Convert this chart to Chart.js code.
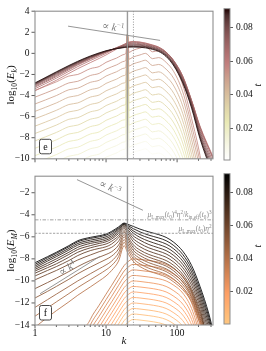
<!DOCTYPE html>
<html><head><meta charset="utf-8">
<script src="https://cdn.jsdelivr.net/npm/chart.js@4.4.0/dist/chart.umd.min.js"></script>
<style>
html,body{margin:0;padding:0;background:#fff;width:266px;height:351px;overflow:hidden;position:relative}
canvas{position:absolute;display:block}
#cE{left:0;top:0;width:266px;height:170px}
#cM{left:0;top:165px;width:266px;height:186px}
#cbE{left:222px;top:0;width:44px;height:170px}
#cbM{left:222px;top:165px;width:44px;height:186px}
</style></head><body>
<canvas id="cE" width="266" height="170"></canvas>
<canvas id="cM" width="266" height="186"></canvas>
<canvas id="cbE" width="44" height="170"></canvas>
<canvas id="cbM" width="44" height="186"></canvas>
<script>
// ---------------- DATA: panel e (kinetic spectra) ----------------
const kE = [1, 2, 3, 4, 6, 8, 10, 14, 18, 19, 20, 21, 24, 30, 36, 45, 55, 70, 90, 120, 160, 210, 320];
// saturated bundle (late times)
const Ek_091 = [-2.8, -1.75, -1.15, -0.75, -0.25, 0.05, 0.25, 0.45, 0.55, 0.57, 0.58, 0.59, 0.6, 0.58, 0.52, 0.38, 0.18, -0.3, -1.2, -2.8, -5.2, -8.1, -11.6];
const Ek_087 = [-2.85, -1.8, -1.2, -0.8, -0.3, 0.0, 0.22, 0.45, 0.58, 0.61, 0.63, 0.64, 0.66, 0.64, 0.58, 0.44, 0.24, -0.22, -1.1, -2.7, -5.05, -7.95, -11.4];
const Ek_083 = [-2.9, -1.85, -1.25, -0.85, -0.33, -0.02, 0.2, 0.46, 0.62, 0.66, 0.68, 0.7, 0.72, 0.7, 0.64, 0.5, 0.3, -0.15, -1.02, -2.6, -4.9, -7.8, -11.2];
const Ek_079 = [-2.95, -1.92, -1.3, -0.9, -0.38, -0.05, 0.18, 0.48, 0.66, 0.71, 0.74, 0.77, 0.8, 0.78, 0.7, 0.56, 0.36, -0.08, -0.95, -2.5, -4.8, -7.6, -10.9];
const Ek_075 = [-3.0, -2.0, -1.38, -0.96, -0.42, -0.08, 0.16, 0.5, 0.72, 0.78, 0.82, 0.85, 0.88, 0.85, 0.77, 0.62, 0.42, 0.0, -0.85, -2.4, -4.7, -7.4, -10.6];
const Ek_071 = [-3.1, -2.1, -1.45, -1.02, -0.48, -0.12, 0.14, 0.52, 0.78, 0.85, 0.9, 0.93, 0.96, 0.92, 0.83, 0.68, 0.48, 0.06, -0.78, -2.3, -4.6, -7.2, -10.3];
const Ek_067 = [-3.2, -2.2, -1.55, -1.1, -0.55, -0.18, 0.1, 0.55, 0.85, 0.93, 0.98, 1.02, 1.05, 1.0, 0.9, 0.74, 0.54, 0.1, -0.72, -2.2, -4.5, -7.0, -10.0];
const Ek_063 = [-3.35, -2.35, -1.7, -1.25, -0.68, -0.3, 0.0, 0.5, 0.85, 0.95, 1.02, 1.06, 1.1, 1.05, 0.95, 0.78, 0.58, 0.12, -0.7, -2.15, -4.45, -6.9, -9.8];
const Ek_059 = [-3.55, -2.55, -1.9, -1.45, -0.88, -0.48, -0.15, 0.4, 0.8, 0.92, 1.0, 1.06, 1.12, 1.08, 0.98, 0.8, 0.6, 0.12, -0.72, -2.2, -4.5, -7.0, -9.9];
// growing spectra (early times), spike at the forcing wavenumber
const Ek_0545 = [-3.5, -2.7, -2.15, -2.0, -1.45, -1.25, -0.85, -0.45, -0.1, 0.0, 1.8, 0.1, 0.3, 0.5, 0.65, 0.15, 0.25, -0.2, -1.1, -3.0, -6.2, -9.7, -17.7];
const Ek_0510 = [-4.15, -3.35, -2.8, -2.65, -2.1, -1.9, -1.5, -1.1, -0.75, -0.65, 1.8, -0.55, -0.35, -0.15, 0.0, -0.5, -0.4, -0.85, -1.75, -3.65, -6.85, -10.35, -18];
const Ek_0475 = [-4.8, -4.0, -3.45, -3.3, -2.75, -2.55, -2.15, -1.75, -1.4, -1.3, 1.8, -1.2, -1.0, -0.8, -0.65, -1.15, -1.05, -1.5, -2.4, -4.3, -7.5, -11, -18];
const Ek_0440 = [-5.5, -4.7, -4.15, -4.0, -3.45, -3.25, -2.85, -2.45, -2.1, -2.0, 1.8, -1.9, -1.7, -1.5, -1.35, -1.85, -1.75, -2.2, -3.1, -5.0, -8.2, -11.7, -18];
const Ek_0405 = [-6.2, -5.4, -4.85, -4.7, -4.15, -3.95, -3.55, -3.15, -2.8, -2.7, 1.8, -2.6, -2.4, -2.2, -2.05, -2.55, -2.45, -2.9, -3.8, -5.7, -8.9, -12.4, -18];
const Ek_0370 = [-6.9, -6.1, -5.55, -5.4, -4.85, -4.65, -4.25, -3.85, -3.5, -3.4, 1.8, -3.3, -3.1, -2.9, -2.75, -3.25, -3.15, -3.6, -4.5, -6.4, -9.6, -13.1, -18];
const Ek_0335 = [-7.6, -6.8, -6.25, -6.1, -5.55, -5.35, -4.95, -4.55, -4.2, -4.1, 1.8, -4.0, -3.8, -3.6, -3.45, -3.95, -3.85, -4.3, -5.2, -7.1, -10.3, -13.8, -18];
const Ek_0300 = [-8.3, -7.5, -6.95, -6.8, -6.25, -6.05, -5.65, -5.25, -4.9, -4.8, 1.8, -4.7, -4.5, -4.3, -4.15, -4.65, -4.55, -5.0, -5.9, -7.8, -11.0, -14.5, -18];
const Ek_0265 = [-9.0, -8.2, -7.65, -7.5, -6.95, -6.75, -6.35, -5.95, -5.6, -5.5, 1.8, -5.4, -5.2, -5.0, -4.85, -5.35, -5.25, -5.7, -6.6, -8.5, -11.7, -15, -18];
const Ek_0230 = [-9.7, -8.9, -8.35, -8.2, -7.65, -7.45, -7.05, -6.65, -6.3, -6.2, 1.8, -6.1, -5.9, -5.7, -5.55, -6.05, -5.95, -6.4, -7.3, -9.2, -12.4, -16, -18];
const Ek_0195 = [-10.4, -9.6, -9.05, -8.9, -8.35, -8.15, -7.75, -7.35, -7.0, -6.9, 1.8, -6.8, -6.6, -6.4, -6.25, -6.75, -6.65, -7.1, -8.0, -9.9, -13.1, -17, -18];
const Ek_0160 = [-11.1, -10.3, -9.75, -9.6, -9.05, -8.85, -8.45, -8.05, -7.7, -7.6, 1.8, -7.5, -7.3, -7.1, -6.95, -7.45, -7.35, -7.8, -8.7, -10.6, -13.8, -17, -18];
const Ek_0125 = [-11.8, -11.0, -10.45, -10.3, -9.75, -9.55, -9.15, -8.75, -8.4, -8.3, 1.8, -8.2, -8.0, -7.8, -7.65, -8.15, -8.05, -8.5, -9.4, -11.3, -14.5, -17, -18];
const Ek_0090 = [-12.5, -11.7, -11.15, -11.0, -10.45, -10.25, -9.85, -9.45, -9.1, -9.0, 1.8, -8.9, -8.7, -8.5, -8.35, -8.85, -8.75, -9.2, -10.1, -12.0, -15, -17, -18];
const Ek_0055 = [-13.2, -12.4, -11.85, -11.7, -11.15, -10.95, -10.55, -10.15, -9.8, -9.7, 1.8, -9.6, -9.4, -9.2, -9.05, -9.55, -9.45, -9.9, -10.8, -12.7, -15.5, -17, -18];
const Ek_0020 = [-13.9, -13.1, -12.55, -12.4, -11.85, -11.65, -11.25, -10.85, -10.5, -10.4, 1.8, -10.3, -10.1, -9.9, -9.75, -10.25, -10.15, -10.6, -11.5, -13.4, -16, -17, -18];
const tE = [0.091, 0.087, 0.083, 0.079, 0.075, 0.071, 0.067, 0.063, 0.059,
            0.0545, 0.051, 0.0475, 0.044, 0.0405, 0.037, 0.0335, 0.030, 0.0265, 0.023, 0.0195, 0.016, 0.0125, 0.009, 0.0055, 0.002];
const EkCurves = [Ek_091, Ek_087, Ek_083, Ek_079, Ek_075, Ek_071, Ek_067, Ek_063, Ek_059,
                  Ek_0545, Ek_0510, Ek_0475, Ek_0440, Ek_0405, Ek_0370, Ek_0335, Ek_0300, Ek_0265, Ek_0230, Ek_0195, Ek_0160, Ek_0125, Ek_0090, Ek_0055, Ek_0020];
const tRangeE = [0.0012, 0.0914];
const yTicksE = [-10, -8, -6, -4, -2, 0, 2, 4];
const slopeE_k = [2.92, 57.6], slopeE_v = [2.58, 1.23];
const slopeE_label = [12.6, 2.5];

// ---------------- DATA: panel f (magnetic spectra) ----------------
const kM = [1, 1.5, 2, 3, 4, 6, 8, 10, 12, 15, 18, 20, 24, 30, 40, 55, 70, 90, 120, 160, 210, 280, 320];
const EM_091 = [-8.35, -7.8, -7.4, -6.8, -6.35, -6.05, -5.9, -5.75, -5.5, -5.1, -4.75, -4.85, -5.05, -5.3, -5.55, -5.8, -6.05, -6.5, -7.3, -8.6, -10.5, -13.0, -14.5];
const EM_087 = [-8.5, -7.9, -7.5, -6.9, -6.45, -6.15, -6.0, -5.85, -5.6, -5.2, -4.8, -4.95, -5.25, -5.55, -5.85, -6.1, -6.35, -6.8, -7.6, -8.9, -10.8, -13.3, -14.8];
const EM_083 = [-8.65, -8.05, -7.65, -7.05, -6.6, -6.3, -6.15, -6.0, -5.75, -5.3, -4.85, -5.05, -5.45, -5.8, -6.1, -6.4, -6.65, -7.1, -7.9, -9.2, -11.1, -13.6, -15];
const EM_079 = [-8.8, -8.2, -7.8, -7.2, -6.75, -6.45, -6.3, -6.15, -5.9, -5.4, -4.9, -5.15, -5.65, -6.05, -6.4, -6.7, -6.95, -7.4, -8.2, -9.5, -11.4, -13.9, -15];
const EM_075 = [-8.95, -8.4, -8.0, -7.4, -6.95, -6.6, -6.45, -6.3, -6.05, -5.55, -5.0, -5.3, -5.9, -6.3, -6.7, -7.0, -7.25, -7.7, -8.5, -9.8, -11.7, -14.2, -15];
const EM_071 = [-9.1, -8.6, -8.2, -7.6, -7.15, -6.8, -6.6, -6.45, -6.2, -5.7, -5.1, -5.45, -6.15, -6.6, -7.0, -7.3, -7.55, -8.0, -8.8, -10.1, -12.0, -14.5, -15];
const EM_067 = [-9.3, -8.8, -8.45, -7.85, -7.4, -7.0, -6.8, -6.65, -6.4, -5.9, -5.25, -5.65, -6.4, -6.9, -7.3, -7.6, -7.85, -8.3, -9.1, -10.4, -12.3, -14.8, -15];
const EM_063 = [-9.55, -9.05, -8.7, -8.15, -7.7, -7.25, -7.05, -6.9, -6.65, -6.1, -5.45, -5.9, -6.7, -7.2, -7.6, -7.9, -8.15, -8.6, -9.4, -10.7, -12.6, -15, -15];
const EM_059 = [-9.9, -9.4, -9.05, -8.5, -8.1, -7.65, -7.35, -7.15, -6.95, -6.4, -5.6, -6.1, -6.95, -7.45, -7.85, -8.15, -8.4, -8.85, -9.65, -10.9, -12.8, -15, -15];
const EM_055 = [-10.7, -10.15, -9.75, -9.15, -8.7, -8.15, -7.85, -7.6, -7.35, -6.75, -5.8, -6.35, -7.2, -7.7, -8.1, -8.4, -8.65, -9.1, -9.9, -11.1, -13.0, -15, -15];
const EM_051 = [-11.55, -10.95, -10.5, -9.85, -9.35, -8.75, -8.35, -8.05, -7.75, -7.1, -6.0, -6.6, -7.45, -7.95, -8.35, -8.65, -8.9, -9.35, -10.1, -11.3, -13.2, -15, -15];
const EM_047 = [-12.4, -11.7, -11.2, -10.5, -10.0, -9.35, -8.9, -8.55, -8.2, -7.45, -6.25, -6.85, -7.7, -8.2, -8.6, -8.9, -9.15, -9.6, -10.35, -11.5, -13.4, -15, -15];
const EM_043 = [-13.2, -12.45, -11.9, -11.15, -10.6, -9.9, -9.4, -9.0, -8.6, -7.8, -6.5, -7.1, -7.95, -8.45, -8.85, -9.15, -9.4, -9.85, -10.6, -11.7, -13.6, -15, -15];
const EM_039 = [-14.2, -13.3, -12.7, -11.9, -11.3, -10.55, -10.0, -9.55, -9.05, -8.2, -6.8, -7.4, -8.2, -8.7, -9.1, -9.4, -9.65, -10.1, -10.8, -11.9, -13.8, -15, -15];
const EM_035 = [-25, -25, -25, -25, -16.5, -13.5, -12.2, -11.2, -10.4, -9.4, -8.6, -8.3, -8.0, -8.05, -8.15, -8.3, -8.5, -8.9, -9.6, -11.0, -13.5, -17, -19];
const EM_032 = [-25, -25, -25, -25, -17, -14, -12.7, -11.7, -10.9, -9.9, -9.1, -8.8, -8.5, -8.55, -8.65, -8.8, -9.0, -9.4, -10.1, -11.5, -14, -17.5, -19.5];
const EM_029 = [-25, -25, -25, -25, -17.5, -14.5, -13.2, -12.2, -11.4, -10.4, -9.6, -9.3, -9.0, -9.05, -9.15, -9.3, -9.5, -9.9, -10.6, -12.0, -14.5, -18, -20];
const EM_026 = [-25, -25, -25, -25, -18, -15, -13.7, -12.7, -11.9, -10.9, -10.1, -9.8, -9.5, -9.55, -9.65, -9.8, -10.0, -10.4, -11.1, -12.5, -15, -18.5, -20.5];
const EM_023 = [-25, -25, -25, -25, -18.5, -15.5, -14.2, -13.2, -12.4, -11.4, -10.6, -10.3, -10.0, -10.05, -10.15, -10.3, -10.5, -10.9, -11.6, -13.0, -15.5, -19, -21];
const EM_020 = [-25, -25, -25, -25, -19, -16, -14.7, -13.7, -12.9, -11.9, -11.1, -10.8, -10.5, -10.55, -10.65, -10.8, -11.0, -11.4, -12.1, -13.5, -16, -19.5, -21.5];
const EM_017 = [-25, -25, -25, -25, -19.5, -16.5, -15.2, -14.2, -13.4, -12.4, -11.6, -11.3, -11.0, -11.05, -11.15, -11.3, -11.5, -11.9, -12.6, -14.0, -16.5, -20, -22];
const EM_014 = [-25, -25, -25, -25, -20, -17, -15.7, -14.7, -13.9, -12.9, -12.1, -11.8, -11.5, -11.55, -11.65, -11.8, -12.0, -12.4, -13.1, -14.5, -17, -20.5, -22.5];
const EM_011 = [-25, -25, -25, -25, -20.5, -17.5, -16.2, -15.2, -14.4, -13.4, -12.6, -12.3, -12.0, -12.05, -12.15, -12.3, -12.5, -12.9, -13.6, -15.0, -17.5, -21, -23];
const EM_008 = [-25, -25, -25, -25, -21, -18, -16.7, -15.7, -14.9, -13.9, -13.1, -12.8, -12.5, -12.55, -12.65, -12.8, -13.0, -13.4, -14.1, -15.5, -18, -21.5, -23.5];
const EM_005 = [-25, -25, -25, -25, -21.5, -18.5, -17.2, -16.2, -15.4, -14.4, -13.6, -13.3, -13.0, -13.05, -13.15, -13.3, -13.5, -13.9, -14.6, -16.0, -18.5, -22, -24];
const EM_002 = [-25, -25, -25, -25, -22, -19, -17.7, -16.7, -15.9, -14.9, -14.1, -13.8, -13.5, -13.55, -13.65, -13.8, -14.0, -14.4, -15.1, -16.5, -19, -22.5, -24.5];
const tM = [0.091, 0.087, 0.083, 0.079, 0.075, 0.071, 0.067, 0.063, 0.059, 0.055, 0.051, 0.047, 0.043, 0.039,
            0.035, 0.032, 0.029, 0.026, 0.023, 0.020, 0.017, 0.014, 0.011, 0.008, 0.005, 0.002];
const EMCurves = [EM_091, EM_087, EM_083, EM_079, EM_075, EM_071, EM_067, EM_063, EM_059, EM_055, EM_051, EM_047, EM_043, EM_039,
                  EM_035, EM_032, EM_029, EM_026, EM_023, EM_020, EM_017, EM_014, EM_011, EM_008, EM_005, EM_002];
const tRangeM = [0.0004, 0.0912];
const yTicksM = [-14, -12, -10, -8, -6, -4, -2];
const slopeM3_k = [3.9, 33], slopeM3_v = [-0.81, -3.59];
const slopeM3_label = [11.4, -1.5];
const slopeM4_k = [1.18, 8.2], slopeM4_v = [-11.16, -7.77];
const slopeM4_label = [2.85, -8.85];
const levelDashDot = -4.46, levelDash = -5.68;
const kForce = 20, kDotted = 24.3;
const cbTicks = [0.02, 0.04, 0.06, 0.08];

// ---------------- styling helpers ----------------
const FONT = '"Liberation Serif","DejaVu Serif",serif';
Chart.defaults.font.family = FONT;
Chart.defaults.color = '#111';
function rgb(r,g,b){return 'rgb('+Math.round(r*255)+','+Math.round(g*255)+','+Math.round(b*255)+')';}
function pinkR(f){ const x=Math.min(1,Math.max(0,1-f));
  const hr=Math.min(1,0.0416+(1-0.0416)*x/0.365), hg=Math.max(0,Math.min(1,(x-0.365)/0.381)), hb=Math.max(0,Math.min(1,(x-0.746)/0.254));
  return rgb(Math.sqrt((2*x+hr)/3),Math.sqrt((2*x+hg)/3),Math.sqrt((2*x+hb)/3)); }
function copperR(f){ const x=Math.min(1,Math.max(0,1-f)); return rgb(Math.min(1,1.25*x),0.7812*x,0.4975*x); }

function richText(ctx, segs, x, y, size, align, color){
  ctx.save(); ctx.fillStyle=color; ctx.textBaseline='alphabetic'; ctx.textAlign='left';
  const items=[]; let w=0;
  for(const s of segs){ const small=s.sub||s.sup; const fs=small?size*0.7:size;
    const font=(s.it?'italic ':'')+fs.toFixed(2)+'px '+FONT; ctx.font=font;
    const ww=ctx.measureText(s.t).width; items.push({t:s.t,font,ww,dy:s.sub?size*0.28:(s.sup?-size*0.38:0)}); w+=ww; }
  let cx = align==='right'? x-w : (align==='center'? x-w/2 : x);
  for(const it of items){ ctx.font=it.font; ctx.fillText(it.t,cx,y+it.dy); cx+=it.ww; }
  ctx.restore(); return w;
}
function rotText(ctx, segs, px, py, ang, size, color){ ctx.save(); ctx.translate(px,py); ctx.rotate(ang); richText(ctx,segs,0,size*0.33,size,'center',color); ctx.restore(); }

function makeSets(k, curves, ts, cmap, range){
  const idx = ts.map((t,i)=>i).sort((a,b)=>ts[b]-ts[a]);
  return idx.map(i=>({data:k.map((kk,j)=>({x:kk,y:curves[i][j]})), borderColor:cmap((ts[i]-range[0])/(range[1]-range[0])),
    borderWidth:0.85, pointRadius:0, fill:false, cubicInterpolationMode:'monotone'}));
}
function isLogTick(v){ const e=Math.floor(Math.log10(v)+1e-9); const m=v/Math.pow(10,e); return Math.abs(m-Math.round(m))<1e-6 && Math.round(m)>=1 && Math.round(m)<=9; }
function minusFmt(v){ return v<0 ? '\u2212'+Math.abs(v) : String(v); }

function line(ctx, x1,y1,x2,y2, color, w, dash){ ctx.save(); ctx.strokeStyle=color; ctx.lineWidth=w; ctx.setLineDash(dash||[]); ctx.beginPath(); ctx.moveTo(x1,y1); ctx.lineTo(x2,y2); ctx.stroke(); ctx.restore(); }
function panelBox(ctx, ca, letter){
  const x=ca.left+4.5, y=ca.bottom-19.5, w=12, h=14.5;
  ctx.save(); ctx.fillStyle='#fff'; ctx.strokeStyle='#333'; ctx.lineWidth=0.9;
  ctx.beginPath(); ctx.roundRect(x,y,w,h,2); ctx.fill(); ctx.stroke();
  ctx.fillStyle='#111'; ctx.font='10px '+FONT; ctx.textAlign='center'; ctx.textBaseline='middle'; ctx.fillText(letter,x+w/2,y+h/2+0.5);
  ctx.restore();
}
function frameAndTicks(chart){
  const {ctx, chartArea:ca, scales:{x,y}} = chart;
  ctx.save();
  for(const t of x.ticks){ if(!isLogTick(t.value)) continue; const px=x.getPixelForValue(t.value); if(px<ca.left-0.5||px>ca.right+0.5) continue;
    const maj=Math.abs(Math.log10(t.value)-Math.round(Math.log10(t.value)))<1e-9; line(ctx,px,ca.bottom,px,ca.bottom+(maj?3.5:2),'#333',0.8); }
  for(const t of y.ticks){ const py=y.getPixelForValue(t.value); line(ctx,ca.left-3.5,py,ca.left,py,'#333',0.8); }
  ctx.strokeStyle='#8e8e8e'; ctx.lineWidth=1.1; ctx.strokeRect(ca.left,ca.top,ca.right-ca.left,ca.bottom-ca.top);
  ctx.restore();
}
function verticals(chart){
  const {ctx, chartArea:ca, scales:{x}} = chart;
  const xf=x.getPixelForValue(kForce), xd=x.getPixelForValue(kDotted);
  line(ctx,xf,ca.top,xf,ca.bottom,'rgba(150,150,150,0.95)',1.4);
  line(ctx,xd,ca.top,xd,ca.bottom,'#8a8a8a',0.9,[1,1.6]);
}
function guide(chart, ks, vs, lbl, segs, size){
  const {ctx, scales:{x,y}} = chart;
  const x1=x.getPixelForValue(ks[0]), y1=y.getPixelForValue(vs[0]), x2=x.getPixelForValue(ks[1]), y2=y.getPixelForValue(vs[1]);
  line(ctx,x1,y1,x2,y2,'#8a8a8a',0.9);
  rotText(ctx,segs,x.getPixelForValue(lbl[0]),y.getPixelForValue(lbl[1]),Math.atan2(y2-y1,x2-x1),size,'#7a7a7a');
}

const baseOpts = (yMin,yMax,yTicks,showX,xH)=>({
  responsive:false, animation:false, events:[], devicePixelRatio:1,
  plugins:{legend:{display:false}, tooltip:{enabled:false}},
  layout:{padding:{left:0,right:53,top:0,bottom:0}},
  scales:{
    x:{type:'logarithmic', min:1, max:320, grid:{display:false, drawTicks:false}, border:{display:false},
       ticks:{display:showX, autoSkip:false, maxRotation:0, padding:2, font:{size:10}, color:'#111',
              callback:(v)=>([1,10,100].includes(v)?String(v):'')},
       afterFit:(s)=>{s.height=xH;}},
    y:{type:'linear', min:yMin, max:yMax, grid:{display:false, drawTicks:false}, border:{display:false},
       ticks:{padding:5.5, font:{size:9.5}, color:'#111', callback:(v)=>minusFmt(v)},
       afterBuildTicks:(s)=>{s.ticks=yTicks.map(v=>({value:v}));},
       afterFit:(s)=>{s.width=35;}}
  }
});

// ---------------- panel e ----------------
const optE = baseOpts(-10,4,yTicksE,false,8); optE.layout.padding.top=7.3;
new Chart(document.getElementById('cE'), {
  type:'line', data:{datasets:makeSets(kE,EkCurves,tE,pinkR,tRangeE)}, options:optE,
  plugins:[{id:'decoE',
    afterDatasetsDraw(chart){ const ctx=chart.ctx, ca=chart.chartArea;
      verticals(chart);
      guide(chart, slopeE_k, slopeE_v, slopeE_label, [{t:'\u221D '},{t:'k',it:1},{t:'\u22121',sup:1}], 10.5);
      panelBox(ctx, ca, 'e');
    },
    afterDraw(chart){ frameAndTicks(chart); const ca=chart.chartArea;
      rotText(chart.ctx,[{t:'log'},{t:'10',sub:1},{t:'('},{t:'E',it:1},{t:'k',it:1,sub:1},{t:')'}],10,(ca.top+ca.bottom)/2,-Math.PI/2,11,'#111');
    }}]
});

// ---------------- panel f ----------------
const optM = baseOpts(-14,-0.5,yTicksM,true,26); optM.layout.padding.top=4;
new Chart(document.getElementById('cM'), {
  type:'line', data:{datasets:makeSets(kM,EMCurves,tM,copperR,tRangeM)}, options:optM,
  plugins:[{id:'decoM',
    afterDatasetsDraw(chart){ const ctx=chart.ctx, ca=chart.chartArea, y=chart.scales.y;
      verticals(chart);
      const ydd=y.getPixelForValue(levelDashDot), yd=y.getPixelForValue(levelDash);
      line(ctx,ca.left,ydd,ca.right,ydd,'#8a8a8a',0.8,[3.5,1.5,1,1.5]);
      line(ctx,ca.left,yd,ca.right,yd,'#8a8a8a',0.8,[2.2,1.4]);
      richText(ctx,[{t:'\u03BC',it:1},{t:'L,max',sub:1},{t:'('},{t:'t',it:1},{t:'0',sub:1},{t:')'},{t:'4',sup:1},{t:'\u03B7',it:1},{t:'2',sup:1},{t:'/'},{t:'k',it:1},{t:'in,eff',sub:1},{t:'('},{t:'t',it:1},{t:'0',sub:1},{t:')'},{t:'3',sup:1}], ca.right-1.5, ydd-2.6, 7.4, 'right', '#8a8a8a');
      richText(ctx,[{t:'\u03BC',it:1},{t:'L,max',sub:1},{t:'('},{t:'t',it:1},{t:'0',sub:1},{t:')'},{t:'\u03B7',it:1},{t:'2',sup:1}], ca.right-1.5, yd-2.6, 7.4, 'right', '#8a8a8a');
      guide(chart, slopeM3_k, slopeM3_v, slopeM3_label, [{t:'\u221D '},{t:'k',it:1},{t:'\u22123',sup:1}], 10.5);
      guide(chart, slopeM4_k, slopeM4_v, slopeM4_label, [{t:'\u221D '},{t:'k',it:1},{t:'4',sup:1}], 10.5);
      panelBox(ctx, ca, 'f');
    },
    afterDraw(chart){ frameAndTicks(chart); const ca=chart.chartArea;
      rotText(chart.ctx,[{t:'log'},{t:'10',sub:1},{t:'('},{t:'E',it:1},{t:'M',it:1,sub:1},{t:')'}],10,(ca.top+ca.bottom)/2,-Math.PI/2,11,'#111');
      richText(chart.ctx,[{t:'k',it:1}],(ca.left+ca.right)/2,179,11,'center','#111');
    }}]
});

// ---------------- colorbars ----------------
function colorbar(id, range, cmap, padTop, padBottom, labelY){
  new Chart(document.getElementById(id), {
    type:'bar',
    data:{labels:[''], datasets:[{data:[[range[0],range[1]]], barPercentage:1, categoryPercentage:1, borderWidth:0,
      backgroundColor:(c)=>{ const ca=c.chart.chartArea; if(!ca) return '#ccc';
        const g=c.chart.ctx.createLinearGradient(0,ca.bottom,0,ca.top);
        for(let i=0;i<=24;i++){ g.addColorStop(i/24, cmap(i/24)); } return g; }}]},
    options:{responsive:false, animation:false, events:[], devicePixelRatio:1,
      plugins:{legend:{display:false}, tooltip:{enabled:false}},
      layout:{padding:{left:2,right:0,top:padTop,bottom:padBottom}},
      scales:{
        x:{display:false},
        y:{position:'right', min:range[0], max:range[1], border:{display:false},
           grid:{display:true, drawOnChartArea:false, drawTicks:true, tickLength:3, color:'#333', lineWidth:0.8},
           ticks:{padding:3, font:{size:9.5}, color:'#111', callback:(v)=>v.toFixed(2)},
           afterBuildTicks:(s)=>{s.ticks=cbTicks.map(v=>({value:v}));},
           afterFit:(s)=>{s.width=36;}}
      }},
    plugins:[{id:'cbFrame', afterDraw(chart){ const ctx=chart.ctx, ca=chart.chartArea;
      ctx.save(); ctx.strokeStyle='#8e8e8e'; ctx.lineWidth=1; ctx.strokeRect(ca.left,ca.top,ca.right-ca.left,ca.bottom-ca.top); ctx.restore();
      rotText(ctx,[{t:'t',it:1}],36,labelY,-Math.PI/2,10,'#111'); }}]
  });
}
colorbar('cbE', tRangeE, pinkR, 7.3, 10, 85);
colorbar('cbM', tRangeM, copperR, 5, 27, 81);
</script>
</body></html>
